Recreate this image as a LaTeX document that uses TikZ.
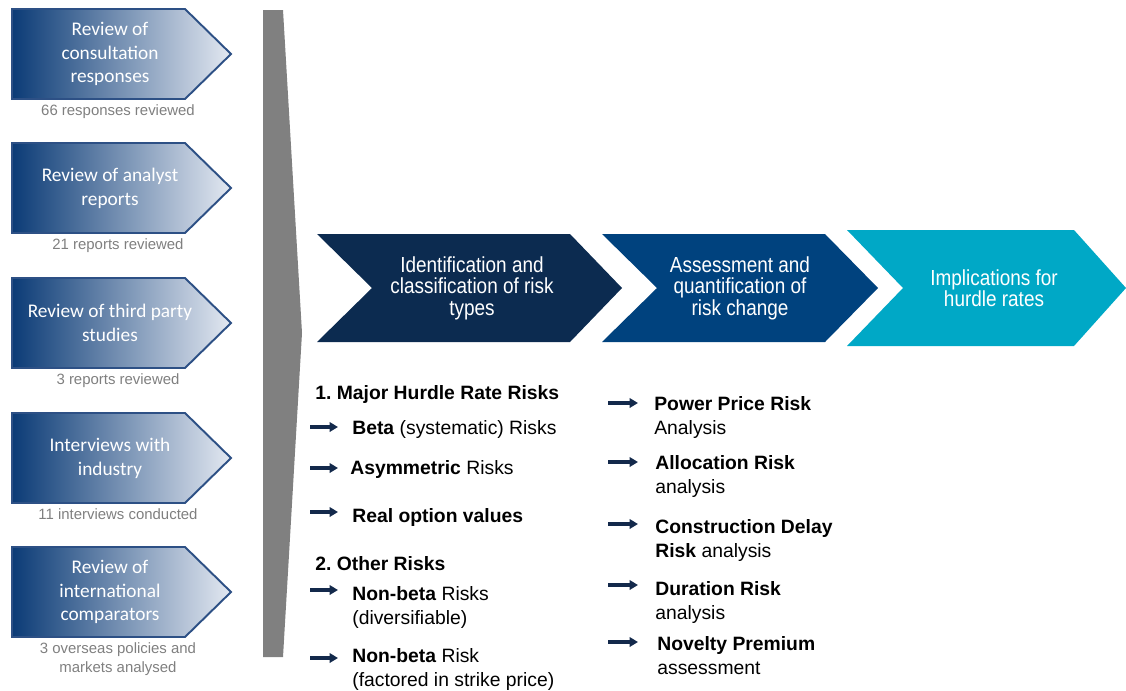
\documentclass[tikz,border=0pt]{standalone}
\usepackage{fontspec}
\setmainfont{Liberation Sans}
\newfontfamily\boxfont{Carlito}
\newfontfamily\narrowfont[FakeStretch=0.87]{Liberation Sans}
\usepackage{tikz}
\usetikzlibrary{arrows.meta}
\definecolor{navyL}{HTML}{0B3B76}
\definecolor{paleR}{HTML}{E3E8F1}
\definecolor{boxline}{HTML}{2D5085}
\definecolor{noteGrey}{HTML}{7F7F7F}
\definecolor{barGrey}{HTML}{808080}
\definecolor{chevA}{HTML}{0C2B50}
\definecolor{chevB}{HTML}{00427E}
\definecolor{chevC}{HTML}{00A8C6}
\definecolor{bulletNavy}{HTML}{13294B}
\tikzset{
  srcbox/.style = {draw=boxline, line width=1.1pt, left color=navyL,
    right color=paleR},% source box, shaded
  srctext/.style = {align=center, text=white, inner sep=0pt,
    font=\boxfont\fontsize{11}{13.6}\selectfont},
  srcnote/.style = {align=center, text=noteGrey, inner sep=0pt, anchor=north,
    font=\fontsize{8.5}{10.8}\selectfont},
  steptext/.style = {align=center, text=white, inner sep=0pt,
    font={\narrowfont\fontsize{12.4}{12.2}\selectfont\lineskiplimit=-6pt}},
  heading/.style = {anchor=north west, inner sep=0pt,
    font=\bfseries\fontsize{11}{13.8}\selectfont},
  riskitem/.style = {anchor=north west, align=left, inner sep=0pt,
    font=\fontsize{11}{13.8}\selectfont},
  navyarrow/.style = {draw=bulletNavy, line width=2.6pt,
    -{Triangle[length=4.8pt,width=5.4pt]}}
}
\begin{document}
\begin{tikzpicture}[x=0.02cm,y=-0.02cm]
\useasboundingbox (0,0) rectangle (1126,690);

% sources
\foreach \y in {54,188,323,458,592}
  \path[srcbox] (12,\y-45) -- (185,\y-45) -- (231,\y) -- (185,\y+45)
    -- (12,\y+45) -- cycle;
\node[srctext] (src1) at (110,54) {Review of\\consultation\\responses};
\node[srctext] (src2) at (110,188) {Review of analyst\\reports};
\node[srctext] (src3) at (110,323) {Review of third party\\studies};
\node[srctext] (src4) at (110,458) {Interviews with\\industry};
\node[srctext] (src5) at (110,592) {Review of\\international\\comparators};
\node[srcnote] (note1) at (118,104) {66 responses reviewed};
\node[srcnote] (note2) at (118,238) {21 reports reviewed};
\node[srcnote] (note3) at (118,373) {3 reports reviewed};
\node[srcnote] (note4) at (118,508) {11 interviews conducted};
\node[srcnote] (note5) at (118,642) {3 overseas policies and\\markets analysed};

\fill[barGrey] (263,10) -- (283,10) -- (302,333) -- (283,657) -- (263,657) -- cycle;

% process steps
\fill[chevA] (317,234) -- (570,234) -- (622,288) -- (570,342) -- (317,342) -- (372,288) -- cycle;
\fill[chevB] (602,234) -- (825,234) -- (878,288) -- (825,342) -- (602,342) -- (657,288) -- cycle;
\fill[chevC] (847,230) -- (1074,230) -- (1126,288) -- (1074,346) -- (847,346) -- (903,288) -- cycle;
\node[steptext] (identify) at (472,288) {Identification and\\classification of risk\\types};
\node[steptext] (assess) at (740,288) {Assessment and\\quantification of\\risk change};
\node[steptext] (implic) at (994,288) {Implications for\\hurdle rates};

% risk types
\node[heading] (major) at (315,385) {1.\ Major Hurdle Rate Risks};
\node[riskitem] (beta) at (352,420) {\textbf{Beta} (systematic) Risks};
\node[riskitem] (asym) at (350,460) {\textbf{Asymmetric} Risks};
\node[riskitem] (realopt) at (352,508) {\textbf{Real option values}};
\node[heading] (other) at (315,556) {2.\ Other Risks};
\node[riskitem] (nonbetaA) at (352,586) {\textbf{Non-beta} Risks\\(diversifiable)};
\node[riskitem] (nonbetaB) at (352,648) {\textbf{Non-beta} Risk\\(factored in strike price)};
\foreach \y in {427,468,512,590,658}
  \draw[navyarrow] (310,\y) -- (338,\y);

% risk analyses
\node[riskitem] (power) at (654,396) {\textbf{Power Price Risk}\\Analysis};
\node[riskitem] (alloc) at (655,455) {\textbf{Allocation Risk}\\analysis};
\node[riskitem] (constr) at (655,519) {\textbf{Construction Delay}\\\textbf{Risk} analysis};
\node[riskitem] (duration) at (655,581) {\textbf{Duration Risk}\\analysis};
\node[riskitem] (novelty) at (657,636) {\textbf{Novelty Premium}\\assessment};
\foreach \y in {403,462,524,585,642}
  \draw[navyarrow] (608,\y) -- (638,\y);
\end{tikzpicture}
\end{document}
